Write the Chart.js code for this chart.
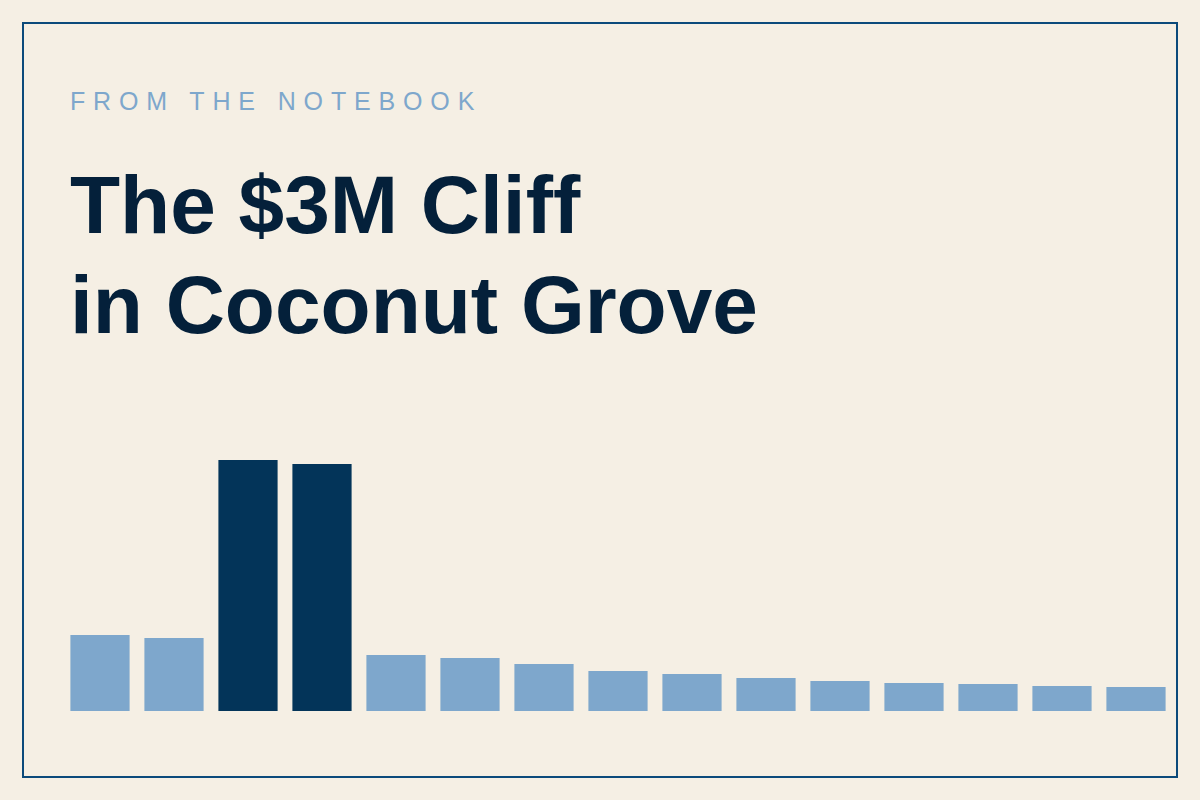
<!DOCTYPE html>
<html>
<head>
<meta charset="utf-8">
<script src="https://cdn.jsdelivr.net/npm/chart.js@4"></script>
<style>
  html, body { margin: 0; padding: 0; }
  body { width: 1200px; height: 800px; background: #f5efe4; position: relative; overflow: hidden; font-family: "Liberation Sans", Arial, sans-serif; }
  .frame { position: absolute; left: 22px; top: 22px; width: 1152px; height: 752px; border: 2px solid #0b4a7b; }
  .kicker { position: absolute; left: 70px; top: 86px; font-size: 25px; line-height: 30px; letter-spacing: 7.85px; color: #7ea7cc; white-space: nowrap; }
  .title { position: absolute; left: 70px; top: 155px; font-size: 82px; line-height: 100px; font-weight: 700; color: #04203a; white-space: nowrap; }
  .chartbox { position: absolute; left: 62.5px; top: 411px; width: 1110px; height: 300px; }
</style>
</head>
<body>
<div class="frame"></div>
<div class="kicker">FROM THE NOTEBOOK</div>
<div class="title">The $3M Cliff<br>in Coconut Grove</div>
<div class="chartbox"><canvas id="c"></canvas></div>
<script>
const categories = ["B1","B2","B3","B4","B5","B6","B7","B8","B9","B10","B11","B12","B13","B14","B15"];
const values = [76, 73, 251, 247, 56, 53, 47, 40, 37, 33, 30, 28, 27, 25, 24];
const highlighted = [false, false, true, true, false, false, false, false, false, false, false, false, false, false, false];
const yMax = 300;

const lightColor = "#7ea7cc";
const darkColor = "#033459";

new Chart(document.getElementById("c"), {
  type: "bar",
  data: {
    labels: categories,
    datasets: [{
      data: values,
      backgroundColor: highlighted.map(h => h ? darkColor : lightColor),
      borderWidth: 0,
      barPercentage: 0.8,
      categoryPercentage: 1.0
    }]
  },
  options: {
    responsive: true,
    maintainAspectRatio: false,
    animation: false,
    layout: { padding: 0 },
    plugins: { legend: { display: false }, tooltip: { enabled: false }, title: { display: false } },
    scales: {
      x: { display: false, offset: true, grid: { display: false } },
      y: { display: false, min: 0, max: yMax, grid: { display: false } }
    }
  }
});
</script>
</body>
</html>
